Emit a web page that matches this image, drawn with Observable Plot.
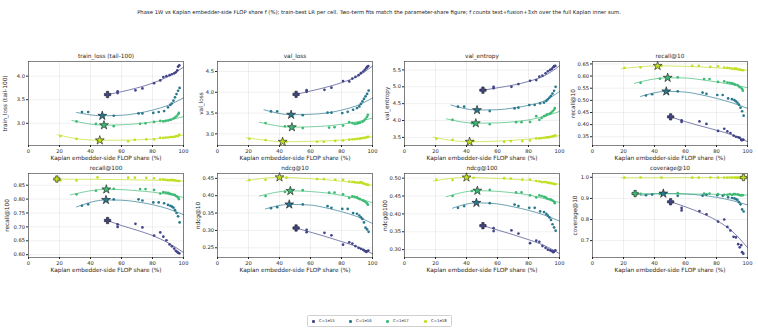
<!DOCTYPE html>
<html>
<head>
<meta charset="utf-8">
<script src="https://cdn.jsdelivr.net/npm/d3@7"></script>
<script src="https://cdn.jsdelivr.net/npm/@observablehq/plot@0.6"></script>
<style>
  body { margin: 0; background: #fff; width: 758px; height: 332px; position: relative; overflow: hidden;
         font-family: "DejaVu Sans", sans-serif; color: #222; }
  #suptitle { position: absolute; left: 0; top: 8.5px; width: 758px; text-align: center; font-size: 5.3px; line-height: 6px; white-space: nowrap; }
  .panel { position: absolute; }
  .panel svg { overflow: visible; background: transparent; }
  #legend { position: absolute; left: 307px; top: 315px; width: 145px; height: 12px; box-sizing: border-box;
            border: 0.6px solid #d0d0d0; border-radius: 1.5px; font-size: 3.9px; }
  #legend .sw { position: absolute; top: 4.4px; width: 2.6px; height: 2.6px; border-radius: 50%; }
  #legend .lb { position: absolute; top: 3.3px; line-height: 4.5px; white-space: nowrap; }
</style>
</head>
<body>
<div id="suptitle">Phase 1W vs Kaplan embedder-side FLOP share f (%); train-best LR per cell. Two-term fits match the parameter-share figure; f counts text+fusion+3xh over the full Kaplan inner sum.</div>
<div id="panels"></div>
<div id="legend"></div>
<script>
// Compute budgets and their colours
const cLabels = ["C=1e15", "C=1e16", "C=1e17", "C=1e18"];
const cColors = ["#414487", "#2a788e", "#3dbb74", "#c2df23"];

// Embedder-side FLOP share (%) of each run, per compute budget
const share15 = [57.5, 57.5, 69, 73.5, 81, 85, 87, 89, 91, 92.5, 94, 95, 96, 96.5, 97.3];
const share16 = [34.5, 38.5, 55, 71, 73.5, 80.5, 84, 87.5, 90, 91.5, 92.5, 93.5, 94.5, 95.5, 96.5, 97.5];
const share17 = [31, 43.5, 55, 72, 75.5, 81, 85, 87, 88.5, 90, 91, 92, 93.5, 94.5, 95.5, 96.5, 97];
const share18 = [20.6, 31, 44.5, 64.3, 68.6, 76, 81, 85, 87, 88.5, 90, 91.5, 92.5, 93.5, 94.5, 95.5, 96.5, 97.3];
const shares = [share15, share16, share17, share18];

const xTicks = [0, 20, 40, 60, 80, 100];
const xLabel = "Kaplan embedder-side FLOP share (%)";

// Metric values per run (same order as the share lists), fitted-curve knots, and fitted optimum
const trainLoss = [
  [3.68, 3.64, 3.70, 3.74, 3.85, 3.91, 3.98, 4.0, 4.02, 4.04, 4.06, 4.08, 4.12, 4.2, 4.23],
  [3.24, 3.24, 3.16, 3.21, 3.21, 3.22, 3.24, 3.26, 3.34, 3.39, 3.42, 3.48, 3.55, 3.62, 3.69, 3.75],
  [3.04, 2.99, 2.94, 2.99, 3.0, 3.03, 3.05, 3.04, 3.05, 3.06, 3.07, 3.08, 3.1, 3.12, 3.15, 3.19, 3.22],
  [2.73, 2.67, 2.64, 2.62, 2.65, 2.66, 2.66, 2.69, 2.69, 2.70, 2.70, 2.71, 2.71, 2.71, 2.72, 2.73, 2.73, 2.76]
];
const trainLossFit = [
  [[51, 3.61], [60, 3.67], [70, 3.75], [80, 3.85], [90, 3.99], [100, 4.19]],
  [[31, 3.23], [47.6, 3.16], [60, 3.17], [70, 3.21], [80, 3.28], [90, 3.38], [100, 3.54]],
  [[28, 3.06], [48.7, 2.96], [60, 2.97], [70, 2.99], [80, 3.03], [90, 3.07], [100, 3.14]],
  [[18.5, 2.76], [30, 2.68], [46, 2.64], [70, 2.65], [90, 2.70], [100, 2.75]]
];
const trainLossBest = [[51, 3.61, "plus"], [47.6, 3.16, "star"], [48.7, 2.96, "star"], [46, 2.64, "star"]];

const valLoss = [
  [4.01, 4.05, 4.06, 4.11, 4.27, 4.26, 4.33, 4.37, 4.41, 4.46, 4.5, 4.54, 4.58, 4.61, 4.63],
  [3.54, 3.54, 3.45, 3.51, 3.51, 3.50, 3.53, 3.58, 3.62, 3.66, 3.72, 3.78, 3.84, 3.9, 3.96, 4.04],
  [3.26, 3.18, 3.14, 3.15, 3.16, 3.2, 3.28, 3.26, 3.24, 3.25, 3.26, 3.27, 3.29, 3.32, 3.36, 3.41, 3.46],
  [2.88, 2.85, 2.81, 2.81, 2.81, 2.83, 2.84, 2.86, 2.87, 2.87, 2.88, 2.88, 2.89, 2.9, 2.9, 2.91, 2.92, 2.93]
];
const valLossFit = [
  [[50.7, 3.95], [60, 4.03], [70, 4.12], [80, 4.23], [90, 4.38], [100, 4.63]],
  [[30, 3.58], [47.5, 3.46], [60, 3.47], [70, 3.5], [80, 3.57], [90, 3.68], [100, 3.86]],
  [[27, 3.28], [48, 3.16], [60, 3.17], [70, 3.19], [80, 3.23], [90, 3.29], [100, 3.38]],
  [[18.5, 2.91], [30, 2.85], [42, 2.81], [60, 2.82], [80, 2.85], [100, 2.93]]
];
const valLossBest = [[50.7, 3.95, "plus"], [47.5, 3.46, "star"], [48, 3.16, "star"], [42, 2.81, "star"]];

const valEntropy = [
  [4.96, 5.0, 5.0, 5.08, 5.18, 5.2, 5.3, 5.33, 5.4, 5.46, 5.5, 5.53, 5.58, 5.61, 5.62],
  [4.41, 4.41, 4.28, 4.36, 4.38, 4.46, 4.46, 4.51, 4.53, 4.58, 4.63, 4.68, 4.73, 4.8, 4.88, 5.0],
  [4.02, 3.92, 3.89, 3.95, 3.95, 3.96, 4.13, 4.02, 4.08, 4.13, 4.15, 4.18, 4.2, 4.23, 4.27, 4.32, 4.37],
  [3.46, 3.43, 3.39, 3.37, 3.39, 3.39, 3.41, 3.47, 3.47, 3.48, 3.49, 3.5, 3.5, 3.51, 3.52, 3.53, 3.54, 3.56]
];
const valEntropyFit = [
  [[50.6, 4.90], [60, 4.97], [70, 5.05], [80, 5.16], [90, 5.32], [100, 5.62]],
  [[30, 4.46], [46.8, 4.31], [60, 4.32], [70, 4.37], [80, 4.45], [90, 4.58], [100, 4.86]],
  [[27, 4.05], [46, 3.92], [60, 3.93], [70, 3.96], [80, 4.02], [90, 4.12], [100, 4.27]],
  [[18.5, 3.51], [30, 3.41], [42, 3.37], [60, 3.39], [80, 3.45], [100, 3.55]]
];
const valEntropyBest = [[50.6, 4.90, "plus"], [46.8, 4.31, "star"], [46, 3.92, "star"], [42, 3.37, "star"]];

const recall10 = [
  [0.418, 0.411, 0.413, 0.403, 0.374, 0.383, 0.372, 0.365, 0.355, 0.35, 0.348, 0.345, 0.337, 0.336, 0.338],
  [0.52, 0.525, 0.537, 0.532, 0.527, 0.522, 0.522, 0.508, 0.505, 0.501, 0.496, 0.49, 0.482, 0.47, 0.455, 0.437],
  [0.572, 0.589, 0.595, 0.588, 0.588, 0.576, 0.578, 0.573, 0.572, 0.57, 0.568, 0.565, 0.563, 0.557, 0.553, 0.547, 0.54],
  [0.634, 0.636, 0.642, 0.642, 0.642, 0.638, 0.64, 0.635, 0.634, 0.633, 0.631, 0.63, 0.632, 0.628, 0.627, 0.626, 0.625, 0.624]
];
const recall10Fit = [
  [[50.4, 0.432], [60, 0.412], [70, 0.394], [80, 0.377], [90, 0.358], [100, 0.330]],
  [[31, 0.516], [47.6, 0.537], [60, 0.534], [70, 0.523], [80, 0.508], [90, 0.49], [100, 0.467]],
  [[27, 0.570], [48.5, 0.593], [60, 0.592], [70, 0.585], [80, 0.576], [90, 0.565], [100, 0.552]],
  [[18.5, 0.630], [30, 0.638], [42, 0.642], [60, 0.640], [80, 0.634], [100, 0.624]]
];
const recall10Best = [[50.4, 0.432, "plus"], [47.6, 0.537, "star"], [48.5, 0.593, "star"], [42, 0.642, "star"]];

const recall100 = [
  [0.709, 0.70, 0.711, 0.698, 0.669, 0.68, 0.665, 0.652, 0.637, 0.63, 0.622, 0.614, 0.61, 0.607, 0.605],
  [0.776, 0.781, 0.799, 0.799, 0.795, 0.788, 0.788, 0.785, 0.779, 0.776, 0.773, 0.769, 0.76, 0.75, 0.738, 0.716],
  [0.817, 0.83, 0.837, 0.836, 0.836, 0.833, 0.82, 0.825, 0.823, 0.822, 0.82, 0.818, 0.816, 0.814, 0.81, 0.806, 0.80],
  [0.867, 0.867, 0.878, 0.877, 0.877, 0.876, 0.875, 0.871, 0.871, 0.869, 0.868, 0.868, 0.869, 0.868, 0.867, 0.866, 0.865, 0.865]
];
const recall100Fit = [
  [[51, 0.723], [60, 0.705], [70, 0.688], [80, 0.669], [90, 0.643], [100, 0.608]],
  [[31, 0.772], [50, 0.797], [60, 0.796], [70, 0.79], [80, 0.78], [90, 0.765], [100, 0.744]],
  [[27, 0.815], [50.2, 0.835], [60, 0.834], [70, 0.83], [80, 0.825], [90, 0.817], [100, 0.806]],
  [[18.3, 0.872], [40, 0.871], [60, 0.870], [80, 0.868], [100, 0.865]]
];
const recall100Best = [[51, 0.723, "plus"], [50, 0.797, "star"], [50.2, 0.835, "star"], [18.3, 0.872, "plus"]];

const ndcg10 = [
  [0.302, 0.295, 0.293, 0.286, 0.259, 0.266, 0.262, 0.255, 0.25, 0.247, 0.244, 0.241, 0.238, 0.24, 0.242],
  [0.364, 0.367, 0.375, 0.37, 0.365, 0.362, 0.362, 0.35, 0.348, 0.343, 0.338, 0.333, 0.323, 0.308, 0.303, 0.296],
  [0.399, 0.411, 0.416, 0.409, 0.409, 0.404, 0.394, 0.398, 0.397, 0.395, 0.392, 0.39, 0.387, 0.385, 0.382, 0.378, 0.374],
  [0.445, 0.446, 0.452, 0.448, 0.448, 0.446, 0.446, 0.441, 0.44, 0.439, 0.438, 0.438, 0.439, 0.437, 0.435, 0.433, 0.432, 0.431]
];
const ndcg10Fit = [
  [[50.7, 0.307], [60, 0.295], [70, 0.282], [80, 0.268], [90, 0.253], [100, 0.233]],
  [[31, 0.362], [46.3, 0.375], [60, 0.373], [70, 0.365], [80, 0.354], [90, 0.34], [100, 0.32]],
  [[27, 0.399], [47, 0.414], [60, 0.412], [70, 0.408], [80, 0.401], [90, 0.392], [100, 0.38]],
  [[18.5, 0.443], [40, 0.453], [60, 0.449], [80, 0.442], [100, 0.43]]
];
const ndcg10Best = [[50.7, 0.307, "plus"], [46.3, 0.375, "star"], [47, 0.414, "star"], [40, 0.453, "star"]];

const ndcg100 = [
  [0.36, 0.352, 0.354, 0.345, 0.318, 0.325, 0.322, 0.31, 0.305, 0.3, 0.298, 0.296, 0.293, 0.295, 0.298],
  [0.417, 0.422, 0.43, 0.426, 0.422, 0.417, 0.417, 0.407, 0.405, 0.4, 0.395, 0.39, 0.383, 0.371, 0.362, 0.353],
  [0.45, 0.464, 0.467, 0.46, 0.46, 0.452, 0.446, 0.452, 0.45, 0.448, 0.446, 0.443, 0.441, 0.44, 0.437, 0.434, 0.43],
  [0.495, 0.495, 0.501, 0.5, 0.499, 0.496, 0.496, 0.492, 0.491, 0.489, 0.489, 0.489, 0.487, 0.487, 0.486, 0.485, 0.484, 0.483]
];
const ndcg100Fit = [
  [[50.6, 0.367], [60, 0.355], [70, 0.342], [80, 0.328], [90, 0.312], [100, 0.289]],
  [[31, 0.416], [46.4, 0.431], [60, 0.428], [70, 0.42], [80, 0.41], [90, 0.397], [100, 0.38]],
  [[27, 0.448], [47, 0.465], [60, 0.463], [70, 0.459], [80, 0.453], [90, 0.443], [100, 0.432]],
  [[18.5, 0.492], [40, 0.502], [60, 0.499], [80, 0.494], [100, 0.483]]
];
const ndcg100Best = [[50.6, 0.367, "plus"], [46.4, 0.431, "star"], [47, 0.465, "star"], [40, 0.502, "star"]];

const coverage10 = [
  [0.855, 0.843, 0.84, 0.825, 0.79, 0.80, 0.765, 0.748, 0.718, 0.715, 0.683, 0.668, 0.679, 0.645, 0.638],
  [0.915, 0.918, 0.912, 0.913, 0.918, 0.915, 0.912, 0.905, 0.902, 0.9, 0.897, 0.893, 0.882, 0.872, 0.848, 0.838],
  [0.921, 0.921, 0.925, 0.923, 0.923, 0.92, 0.917, 0.917, 0.92, 0.917, 0.92, 0.92, 0.919, 0.917, 0.914, 0.916, 0.915],
  [0.998, 0.999, 0.998, 0.998, 0.998, 0.999, 0.998, 0.998, 0.998, 0.999, 0.998, 0.999, 0.998, 0.998, 0.999, 0.998, 0.999, 0.999]
];
const coverage10Fit = [
  [[50.4, 0.884], [60, 0.86], [70, 0.831], [80, 0.796], [90, 0.745], [100, 0.667]],
  [[31, 0.915], [45.7, 0.923], [60, 0.921], [70, 0.915], [80, 0.905], [90, 0.89], [100, 0.869]],
  [[27.5, 0.923], [50, 0.922], [75, 0.92], [100, 0.916]],
  [[18.5, 0.997], [60, 0.998], [97.4, 0.999], [100, 0.999]]
];
const coverage10Best = [[50.4, 0.884, "plus"], [45.7, 0.923, "star"], [27.5, 0.923, "plus"], [97.4, 0.999, "plus"]];

// Panel configuration (grid order, left-to-right then top-to-bottom)
const panels = [
  {title: "train_loss (tail-100)", values: trainLoss, fit: trainLossFit, best: trainLossBest, domain: [2.53, 4.31], ticks: [3.0, 3.5, 4.0], fmt: ".1f", gap: 23},
  {title: "val_loss", values: valLoss, fit: valLossFit, best: valLossBest, domain: [2.72, 4.74], ticks: [3.0, 3.5, 4.0, 4.5], fmt: ".1f", gap: 16.5},
  {title: "val_entropy", values: valEntropy, fit: valEntropyFit, best: valEntropyBest, domain: [3.26, 5.75], ticks: [3.5, 4.0, 4.5, 5.0, 5.5], fmt: ".1f", gap: 17},
  {title: "recall@10", values: recall10, fit: recall10Fit, best: recall10Best, domain: [0.314, 0.660], ticks: [0.35, 0.40, 0.45, 0.50, 0.55, 0.60, 0.65], fmt: ".2f", gap: 19.5},
  {title: "recall@100", values: recall100, fit: recall100Fit, best: recall100Best, domain: [0.590, 0.892], ticks: [0.60, 0.65, 0.70, 0.75, 0.80, 0.85], fmt: ".2f", gap: 21},
  {title: "ndcg@10", values: ndcg10, fit: ndcg10Fit, best: ndcg10Best, domain: [0.222, 0.464], ticks: [0.25, 0.30, 0.35, 0.40, 0.45], fmt: ".2f", gap: 19},
  {title: "ndcg@100", values: ndcg100, fit: ndcg100Fit, best: ndcg100Best, domain: [0.278, 0.513], ticks: [0.30, 0.35, 0.40, 0.45, 0.50], fmt: ".2f", gap: 19.5},
  {title: "coverage@10", values: coverage10, fit: coverage10Fit, best: coverage10Best, domain: [0.62, 1.018], ticks: [0.7, 0.8, 0.9, 1.0], fmt: ".1f", gap: 17}
];

// Frame placement of the 4x2 grid
const frameLefts = [27.5, 216.5, 404, 592];
const frameTops = [60.5, 173];
const FW = 155, FH = 84;
const ML = 30, MR = 6, MT = 12, MB = 20;

// Filled "plus" marker
const filledPlus = {
  draw(ctx, size) {
    const r = Math.sqrt(size) / 2, t = r * 0.36;
    ctx.moveTo(-t, -r); ctx.lineTo(t, -r); ctx.lineTo(t, -t); ctx.lineTo(r, -t);
    ctx.lineTo(r, t); ctx.lineTo(t, t); ctx.lineTo(t, r); ctx.lineTo(-t, r);
    ctx.lineTo(-t, t); ctx.lineTo(-r, t); ctx.lineTo(-r, -t); ctx.lineTo(-t, -t);
    ctx.closePath();
  }
};

const pointRows = (values) => values.flatMap((ys, i) => ys.map((y, j) => ({x: shares[i][j], y, c: cLabels[i]})));
const fitRows = (fit) => fit.flatMap((pts, i) => pts.map(([x, y]) => ({x, y, c: cLabels[i]})));
const bestRows = (best) => best.map(([x, y, kind], i) => ({x, y, kind, c: cLabels[i]}));

const textStyle = {fill: "#262626", fontSize: 5.8, lineAnchor: "middle", textAnchor: "middle"};

const host = document.getElementById("panels");
panels.forEach((p, k) => {
  const col = k % 4, row = Math.floor(k / 4);
  const best = bestRows(p.best);
  const chart = Plot.plot({
    width: ML + FW + MR,
    height: MT + FH + MB,
    marginLeft: ML, marginRight: MR, marginTop: MT, marginBottom: MB,
    style: {fontFamily: "DejaVu Sans, sans-serif", fontSize: "5.2px", color: "#262626", background: "transparent", overflow: "visible"},
    x: {domain: [0, 100]},
    y: {domain: p.domain},
    color: {domain: cLabels, range: cColors},
    marks: [
      Plot.gridX(xTicks, {stroke: "#000", strokeOpacity: 0.1, strokeWidth: 0.6}),
      Plot.gridY(p.ticks, {stroke: "#000", strokeOpacity: 0.1, strokeWidth: 0.6}),
      Plot.line(fitRows(p.fit), {x: "x", y: "y", z: "c", stroke: "c", curve: "monotone-x", strokeWidth: 0.8, strokeOpacity: 0.85}),
      Plot.dot(pointRows(p.values), {x: "x", y: "y", fill: "c", r: 1.35}),
      Plot.dot(best.filter(d => d.kind === "star"), {x: "x", y: "y", fill: "c", symbol: "star", r: 2.8, stroke: "#1a1a1a", strokeWidth: 0.6}),
      Plot.dot(best.filter(d => d.kind === "plus"), {x: "x", y: "y", fill: "c", symbol: filledPlus, r: 3.6, stroke: "#1a1a1a", strokeWidth: 0.6}),
      Plot.frame({stroke: "#333", strokeWidth: 0.6}),
      Plot.axisX({ticks: xTicks, tickSize: 2, tickPadding: 1.5, label: null}),
      Plot.axisY({ticks: p.ticks, tickFormat: d3.format(p.fmt), tickSize: 2, tickPadding: 1.5, label: null}),
      Plot.text([p.title], {...textStyle, text: d => d, frameAnchor: "top", dy: -5.3}),
      Plot.text([xLabel], {...textStyle, text: d => d, frameAnchor: "bottom", dy: 13}),
      Plot.text([p.title], {...textStyle, text: d => d, frameAnchor: "left", dx: -p.gap, rotate: -90})
    ]
  });
  const div = document.createElement("div");
  div.className = "panel";
  div.style.left = (frameLefts[col] - ML) + "px";
  div.style.top = (frameTops[row] - MT) + "px";
  div.appendChild(chart);
  host.appendChild(div);
});

// Legend of compute budgets
const legend = document.getElementById("legend");
const swatchX = [4, 41, 78, 116];
cLabels.forEach((label, i) => {
  const sw = document.createElement("span");
  sw.className = "sw";
  sw.style.left = swatchX[i] + "px";
  sw.style.background = cColors[i];
  const lb = document.createElement("span");
  lb.className = "lb";
  lb.style.left = (swatchX[i] + 7) + "px";
  lb.textContent = label;
  legend.appendChild(sw);
  legend.appendChild(lb);
});
</script>
</body>
</html>
